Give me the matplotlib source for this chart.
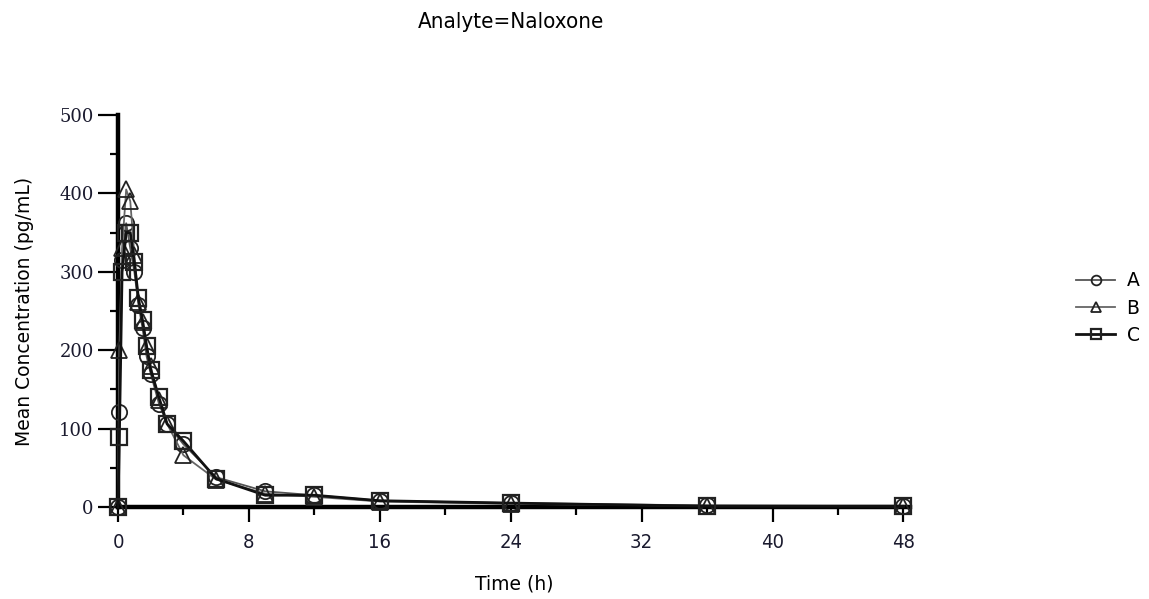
import matplotlib
matplotlib.use("Agg")
import matplotlib.pyplot as plt
from matplotlib.ticker import MultipleLocator
from matplotlib.lines import Line2D

time_h = [0, 0.083, 0.25, 0.5, 0.75, 1, 1.25, 1.5, 1.75, 2, 2.5, 3, 4, 6, 9, 12, 16, 24, 36, 48]
conc_A = [0, 121, 315, 362, 330, 300, 258, 228, 192, 170, 132, 106, 80, 38, 20, 15, 8, 5, 2, 1]
conc_B = [0, 200, 330, 405, 390, 322, 262, 236, 205, 180, 137, 106, 66, 35, 17, 13, 7, 4, 1.5, 1]
conc_C = [0, 89, 300, 350, 350, 312, 266, 238, 205, 175, 140, 106, 84, 36, 15, 15, 8, 5, 1, 1]
series_names = ["A", "B", "C"]

fig = plt.figure(figsize=(11.49, 5.99), dpi=100)
ax = fig.add_axes([118/1149, 1-507/599, (910-118)/1149, (507-115)/599])

styles = [
    dict(color="#555555", marker="o", lw=1.3, mew=1.3),
    dict(color="#666666", marker="^", lw=1.3, mew=1.3),
    dict(color="#111111", marker="s", lw=2.0, mew=1.6),
]
for y, st in zip([conc_A, conc_B, conc_C], styles):
    ax.plot(time_h, y, color=st["color"], lw=st["lw"], marker=st["marker"],
            markersize=11, markerfacecolor="none", markeredgecolor="#222222",
            markeredgewidth=st["mew"], clip_on=False, zorder=3)

ax.set_xlim(0, 48.4)
ax.set_ylim(0, 500)
ax.xaxis.set_major_locator(MultipleLocator(8))
ax.xaxis.set_minor_locator(MultipleLocator(4))
ax.yaxis.set_major_locator(MultipleLocator(100))
ax.yaxis.set_minor_locator(MultipleLocator(50))
for s in ["top", "right"]:
    ax.spines[s].set_visible(False)
for s in ["left", "bottom"]:
    ax.spines[s].set_linewidth(3.2)
    ax.spines[s].set_color("black")
ax.tick_params(axis="y", which="major", length=14.5, width=1.6, direction="out", pad=3)
ax.tick_params(axis="y", which="minor", length=6, width=1.6, direction="out")
ax.tick_params(axis="x", which="major", length=11, width=1.6, direction="out", pad=8)
ax.tick_params(axis="x", which="minor", length=6, width=1.6, direction="out")

for lab in ax.get_yticklabels():
    lab.set_fontfamily(["DejaVu Serif"])
    lab.set_fontsize(13)
    lab.set_color("#1a1a2e")
for lab in ax.get_xticklabels():
    lab.set_fontfamily(["DejaVu Sans"])
    lab.set_fontstretch("condensed")
    lab.set_fontsize(14.5)
    lab.set_color("#1a1a2e")

ax.set_xlabel("Time (h)", fontsize=13.5, family=["DejaVu Sans"], labelpad=16)
ax.set_ylabel("Mean Concentration (pg/mL)", fontsize=13.5, family=["DejaVu Sans"], labelpad=18)
fig.text(511/1149, 1-22/599, "Analyte=Naloxone", ha="center", va="center",
         fontsize=16, family=["DejaVu Sans"], fontstretch="condensed")

handles = []
for name, st in zip(series_names, styles):
    handles.append(Line2D([0], [0], color=st["color"], lw=st["lw"], marker=st["marker"],
                          markersize=7, markerfacecolor="none", markeredgecolor="#222222",
                          markeredgewidth=st["mew"], label=name))
fig.legend(handles=handles, loc="center left", bbox_to_anchor=(1076/1149, 1-308/599),
           frameon=False, fontsize=13.5, handlelength=2.1, labelspacing=0.45,
           handletextpad=0.6, borderpad=0, borderaxespad=0)

fig.savefig("out.png", dpi=100)
